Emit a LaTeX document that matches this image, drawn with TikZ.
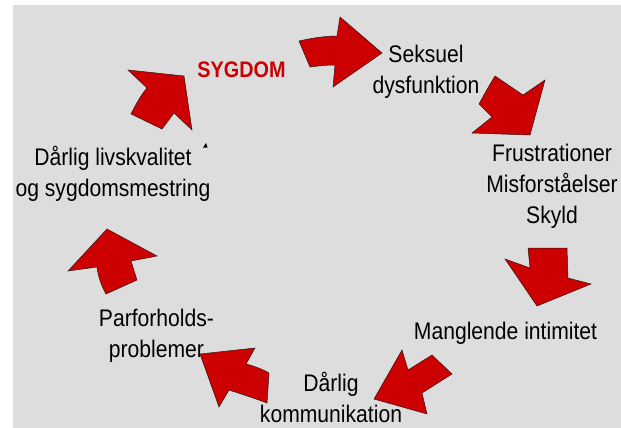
\documentclass[tikz,border=0pt]{standalone}
\usepackage{fontspec}
\setmainfont{Liberation Sans}
\usepackage{graphicx}
\definecolor{bg}{RGB}{221,221,221}
\definecolor{arrred}{RGB}{204,0,0}
\definecolor{edgecol}{RGB}{50,20,20}
\newcommand{\lbl}[1]{\scalebox{0.88}[1]{\fontsize{24}{31}\selectfont\begin{tabular}[t]{@{}c@{}}#1\end{tabular}}}
\begin{document}
\begin{tikzpicture}[x=1pt,y=-1pt,
  blk/.style={fill=arrred, draw=edgecol, line width=0.5pt, line join=miter},
  txt/.style={inner sep=0pt, anchor=base, text=black}]
\useasboundingbox (0,0) rectangle (621,428);
\fill[white] (0,0) rectangle (621,428);
\fill[bg] (13,5) rectangle (621,428);

% texts
\node[txt, text=arrred] (syg) at (241.5,77.3) {\scalebox{0.88}[1]{\fontsize{22.5}{27}\selectfont\bfseries SYGDOM}};
\node[txt] (seks) at (426,63) {\lbl{Seksuel\\dysfunktion}};
\node[txt] (frus) at (552,161.5) {\lbl{Frustrationer\\Misforståelser\\Skyld}};
\node[txt] (mang) at (505.5,339.5) {\lbl{Manglende intimitet}};
\node[txt] (komm) at (331,391.5) {\lbl{Dårlig\\kommunikation}};
\node[txt] (parf) at (156.5,326.7) {\lbl{Parforholds-\\problemer}};
\node[txt] (livs) at (113,165) {\lbl{Dårlig livskvalitet\\og sygdomsmestring}};

% arrows
\draw[blk] (299,41) .. controls (312,38) and (326,36) .. (337,36) -- (340,17) -- (382,53) -- (333,87) -- (335,65) .. controls (326,65) and (318,66) .. (310,67) -- cycle;
\draw[blk] (479,104) .. controls (485,93) and (490,84) .. (495,76) -- (523,95) -- (545,80) -- (530,135) -- (472,133) -- (492,117) -- cycle;
\draw[blk] (528,248) -- (567,248) -- (568,278) -- (591,284) -- (537,306) -- (505,259) -- (530,268) -- cycle;
\draw[blk] (402,350) -- (408,370) -- (432,355) -- (452,374) -- (422,393) -- (427,414) -- (374,399) -- cycle;
\draw[blk] (200,354) -- (255,348) -- (246,364) .. controls (254,366) and (262,369) .. (269,373) -- (267,403) .. controls (254,398) and (241,394) .. (229,390) -- (219,407) -- cycle;
\draw[blk] (107,229) -- (157,256) -- (131,261) -- (137,280) -- (106,294) .. controls (101,285) and (98,276) .. (97,267) -- (68,271) -- cycle;
\draw[blk] (128,70) -- (184,76) -- (192,130) -- (174,113) -- (162,129) -- (131,114) .. controls (136,104) and (141,95) .. (147,88) -- cycle;

% small mark
\fill[black] (203,147.5) -- (207.5,147.5) -- (206,143) -- cycle;
\end{tikzpicture}
\end{document}
